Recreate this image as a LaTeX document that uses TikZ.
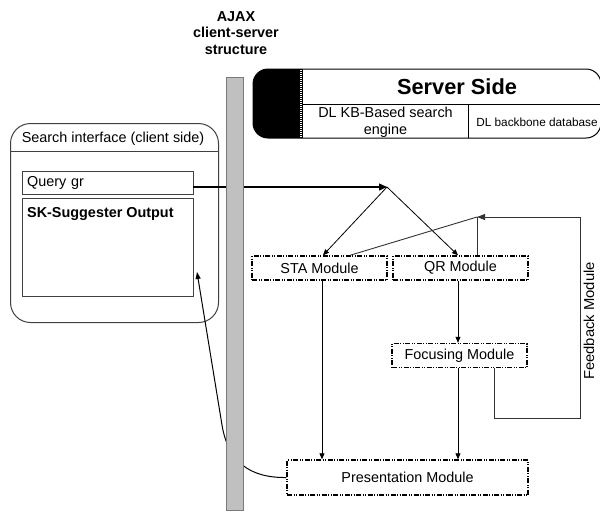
\documentclass[tikz,border=0pt]{standalone}
\usepackage{fontspec}
\setmainfont{Liberation Sans}
\usetikzlibrary{arrows.meta,calc}
\definecolor{barfill}{HTML}{C0C0C0}
\definecolor{barline}{HTML}{7A7A7A}
\definecolor{fbline}{HTML}{333333}
\definecolor{boxline}{HTML}{404040}
\tikzset{
  txt/.style={font=\fontsize{14.4}{16.5}\selectfont},
  btxt/.style={font=\fontsize{14.4}{16.5}\selectfont\bfseries},
  modbox/.style={draw, line width=1.4pt,
    dash pattern=on 5pt off 1.5pt on 1pt off 1.5pt on 1pt off 1.5pt,
    minimum width=135pt, minimum height=24pt, inner sep=0pt, txt},
  link/.style={draw, line width=0.8pt, -{Triangle[length=6pt,width=5pt]}},
  fb/.style={draw=fbline, line width=0.9pt},
}
\begin{document}
\begin{tikzpicture}[x=1pt,y=-1pt]
\useasboundingbox (0,0) rectangle (600,515);

% ---- client side ----
\node[draw=boxline, line width=1pt, rounded corners=20pt, minimum width=208pt,
      minimum height=199pt, anchor=north west, inner sep=0pt] (client) at (10,123) {};
\coordinate (hdr) at (0,151);
\draw[boxline, line width=1pt] (client.west |- hdr) -- (client.east |- hdr);
\node[txt, anchor=base] (clienttitle) at (113,142) {Search interface (client side)};
\node[draw=boxline, minimum width=171pt, minimum height=23pt, anchor=north west,
      inner sep=0pt, inner xsep=5pt, text width=161pt, align=left, txt] (query) at (22,171) {Query gr};
\node[draw=boxline, minimum width=171pt, minimum height=98pt, anchor=north west,
      inner sep=0pt] (sk) at (22,198) {};
\node[btxt, anchor=base west, inner sep=0pt] (sktitle) at (27,217) {SK-Suggester Output};

% ---- server side ----
\begin{scope}
  \clip[rounded corners=15pt] (253,69) rectangle (601,138);
  \fill (253,69) rectangle (303,138);
\end{scope}
\draw[line width=1pt, rounded corners=15pt] (253,69) rectangle (601,138);
\draw[white, line width=1.2pt, dash pattern=on 1pt off 1pt] (301,70) -- (301,137);
\draw[line width=0.8pt] (303,104) -- (601,104);
\draw[line width=0.8pt] (468,104) -- (468,138);
\node[font=\fontsize{21.8}{24}\selectfont\bfseries] (server) at (457,87) {Server Side};
\node[txt, align=center] (engine) at (385.5,122.5) {DL KB-Based search\\engine};
\node[font=\fontsize{11.8}{14}\selectfont] (db) at (537,122) {DL backbone database};

% ---- modules ----
\node[modbox] (sta) at (319.5,268) {STA Module};
\node[modbox] (qr) at (460.5,268) {QR Module};
\node[modbox] (foc) at (459.5,355.5) {Focusing Module};
\node[modbox, minimum width=241pt, minimum height=35pt] (pres) at (407.5,477.5) {Presentation Module};
\node[txt, rotate=90, xscale=1.03] (fbtext) at (589,321) {Feedback Module};

% ---- connectors ----
\coordinate (split) at (387,187);
\draw[line width=1.2pt, -{Triangle[length=8pt,width=7pt]}] (query.east |- split) -- (split);
\draw[link] (split) -- ([xshift=3.5pt]sta.north);
\draw[link] (split) -- ([xshift=-2.5pt]qr.north);

\draw[link] ([xshift=-2.5pt]qr.south) -- ([xshift=-2.5pt]qr.south |- foc.north);
\draw[link] ([xshift=-1.5pt]foc.south) -- ([xshift=-1.5pt]foc.south |- pres.north);
\draw[link] ([xshift=2.5pt]sta.south) -- ([xshift=2.5pt]sta.south |- pres.north);

\coordinate (fbj) at (477,217);
\coordinate (fbr) at (580,217);
\coordinate (fbb) at (580,418);
\coordinate (fbl) at (494,418);
\draw[fb, -{Triangle[length=8pt,width=6pt]}] (foc.south -| fbl) -- (fbl) -- (fbb) -- (fbr) -- (fbj);
\draw[fb] (qr.north -| fbj) -- (fbj);
\draw[fb] ([xshift=30.5pt]sta.north) -- (fbj);

\coordinate (skin) at (197,272);
\draw[line width=1pt, -{Triangle[length=7pt,width=5pt]}]
  (pres.west) .. controls (250,478) and (228,462) .. (222,425) -- (skin);

% ---- AJAX bar (drawn over the links it crosses) ----
\node[fill=barfill, draw=barline, line width=0.8pt, minimum width=17pt,
      minimum height=433pt, anchor=north, inner sep=0pt] (bar) at (234.5,77) {};
\node[btxt, align=center] (ajax) at (236,33) {AJAX\\client-server\\structure};
\end{tikzpicture}
\end{document}
